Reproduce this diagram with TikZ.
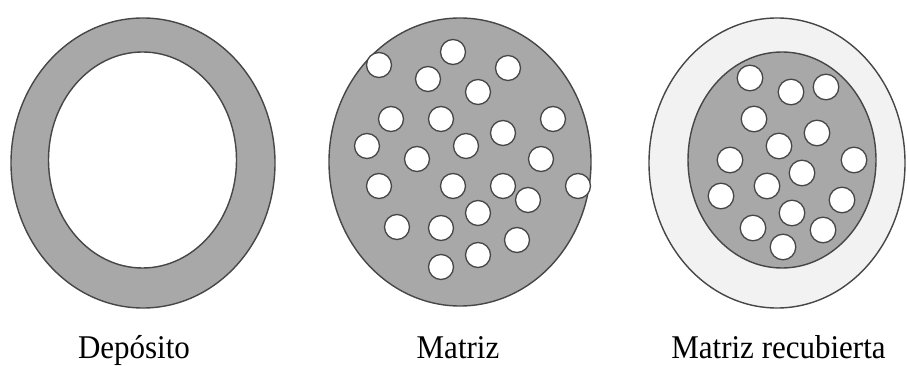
\documentclass[tikz,border=0pt]{standalone}
\usepackage{fontspec}
\setmainfont{Liberation Serif}
\definecolor{shell}{RGB}{168,168,168}
\definecolor{coat}{RGB}{242,242,242}
\definecolor{edge}{RGB}{70,70,70}
\tikzset{
  blob/.style={draw=edge, line width=1.4pt},
  pore/.style={draw=edge, line width=1.3pt, fill=white},
  lbl/.style={font=\fontsize{31}{36}\selectfont, anchor=base, inner sep=0pt}
}
\begin{document}
\begin{tikzpicture}[x=1pt,y=-1pt]
\useasboundingbox (0,0) rectangle (907,366);
% Deposito
\draw[blob, fill=shell] (143,163) ellipse [x radius=132pt, y radius=145pt];
\draw[blob, fill=white] (142.5,160) ellipse [x radius=94pt, y radius=108pt];
% Matriz
\draw[blob, fill=shell] (460,162) ellipse [x radius=131pt, y radius=144pt];
\foreach \px/\py in {379/65,453/52,508/68,428/79,478/92,391/119,441/119,553/119,503/133,367/146,466/146,417/159,541/159,379/186,453/186,503/186,578/186,528/200,478/213,397/227,441/228,517/240,478/255,441/267}
  \draw[pore] (\px,\py) circle [radius=12.5pt];
% Matriz recubierta
\draw[blob, fill=coat] (777,163) ellipse [x radius=128pt, y radius=145pt];
\draw[blob, fill=shell] (782,160) ellipse [x radius=94pt, y radius=108pt];
\foreach \px/\py in {750/78,791/92,826/87,754/119,817/133,779/146,730/160,854/160,802/173,767/186,721/196,842/200,792/213,753/228,823/230,783/247}
  \draw[pore] (\px,\py) circle [radius=12.8pt];
% labels
\node[lbl] (l1) at (134,358) {\scalebox{1}[1.07]{Depósito}};
\node[lbl] (l2) at (458,358) {\scalebox{1}[1.07]{Matriz}};
\node[lbl] (l3) at (778.5,358) {\scalebox{1}[1.07]{Matriz recubierta}};
\end{tikzpicture}
\end{document}
